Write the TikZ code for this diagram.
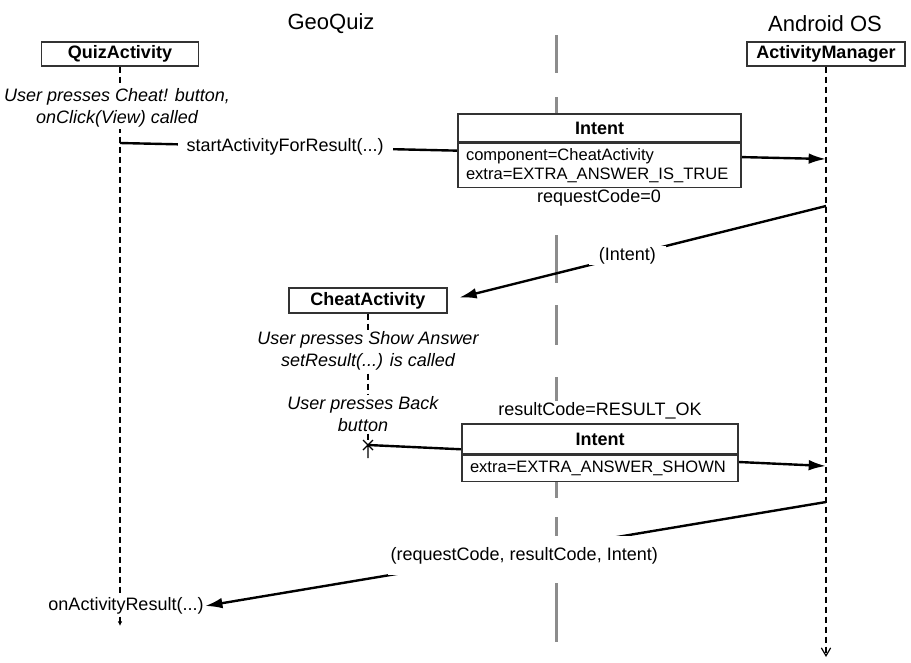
\documentclass[tikz,border=0pt]{standalone}
\usepackage{fontspec}
\setmainfont{Liberation Sans}
\usetikzlibrary{positioning,arrows.meta}

\tikzset{
  lifebox/.style={draw=black!80,line width=1pt,fill=white,inner sep=0pt,font=\fontsize{13.5}{16}\selectfont\bfseries},
  intentbody/.style={draw=black!80,line width=1pt,fill=white,align=left,inner xsep=6pt,inner ysep=0pt,font=\fontsize{12.4}{14.25}\selectfont},
  lifeline/.style={line width=0.9pt,dash pattern=on 4.5pt off 3pt},
  msg/.style={line width=1.8pt,-{Latex[length=13pt,width=8pt]}},
  lbl/.style={fill=white,inner ysep=1pt,font=\fontsize{13.5}{16}\selectfont},
  note/.style={fill=white,align=center,inner sep=1pt,font=\fontsize{13.5}{16.5}\selectfont\itshape},
  divider/.style={line width=2.25pt,color=black!45},
  heading/.style={font=\fontsize{16.5}{20}\selectfont}
}

\begin{document}
\begin{tikzpicture}[x=0.75pt,y=0.75pt,yscale=-1,xscale=1]
        \useasboundingbox (0,0) rectangle (911,662);

        %Divider between the app and the OS
        \foreach \a/\b in {35/73,97/114,235/283,305/345,377/403,482/498,517/543,583/642}
          \draw[divider] (556,\a) -- (556,\b);

        % Headings
        \node[heading] (geoquiz) at (331,24) {GeoQuiz};
        \node[heading] (androidOS) at (825,24) {Android OS};

        % Lifeline boxes
        \node[lifebox,minimum width=117.75pt,minimum height=18pt] (quiz) at (120,54) {QuizActivity};
        \node[lifebox,minimum width=118.5pt,minimum height=18pt] (manager) at (826,54) {ActivityManager};
        \node[lifebox,minimum width=118.5pt,minimum height=18.75pt] (cheat) at (368,300.5) {CheatActivity};

        % Points on the lifelines
        \coordinate (q1) at (120,143);
        \coordinate (quizEnd) at (120,626);
        \coordinate (m1) at (826,159);
        \coordinate (m2) at (826,206);
        \coordinate (m3) at (826,466);
        \coordinate (m4) at (826,502);
        \coordinate (managerEnd) at (826,657);
        \coordinate (x1) at (368,445);

        %Lifelines
        \draw[lifeline,-{Latex[length=3.5pt,width=3.5pt]}] (quiz.south) -- (quizEnd);
        \draw[lifeline,-{Straight Barb[length=6pt,width=7pt]}] (manager.south) -- (managerEnd);
        \draw[lifeline] (cheat.south) -- (x1);
        %End of CheatActivity
        \draw[line width=0.9pt] ([shift={(-5,-5)}]x1) -- ([shift={(5,5)}]x1) ([shift={(-5,5)}]x1) -- ([shift={(5,-5)}]x1) (x1) -- ++(0,13);

        % Text Node
        \node[note] (cheatNote) at (117,108) {User presses Cheat! button,\\onClick(View) called};
        \node[note] (showNote) at (368,351) {User presses Show Answer\\setResult(...) is called};
        \node[note] (backNote) at (363,414) {User presses Back\\button};
        \node[lbl,inner xsep=1pt] (result) at (126,606) {onActivityResult(...)};

        %Messages
        \draw[msg] (q1) -- node[lbl,pos=0.234,inner xsep=6.75pt] {startActivityForResult(...)} (m1);
        \draw[msg,shorten >=9pt] (m2) -- node[lbl,pos=0.525,inner xsep=7.5pt] {(Intent)} (cheat.east);
        \draw[msg] (x1) -- (m3);
        \draw[msg] (m4) -- node[lbl,pos=0.486,yshift=-2.25pt,inner xsep=2pt,inner ysep=8.25pt] {(requestCode, resultCode, Intent)} (result.east);

        %Intent sent to the OS
        \node[lifebox,minimum width=212.25pt,minimum height=21pt] (intentA) at (599.5,128) {Intent};
        \node[intentbody,text width=200.25pt,minimum height=33pt,below=0pt of intentA] (intentAbody) {component=CheatActivity\\extra=EXTRA\_ANSWER\_IS\_TRUE};
        \node[lbl] (reqCode) at (599,198) {requestCode=0};

        %Intent sent back
        \node[lbl] (resCode) at (600,411) {resultCode=RESULT\_OK};
        \node[lifebox,minimum width=207pt,minimum height=22.5pt] (intentB) at (600,439) {Intent};
        \node[intentbody,text width=195pt,minimum height=19.5pt,below=0pt of intentB] (intentBbody) {extra=EXTRA\_ANSWER\_SHOWN};

\end{tikzpicture}
\end{document}
